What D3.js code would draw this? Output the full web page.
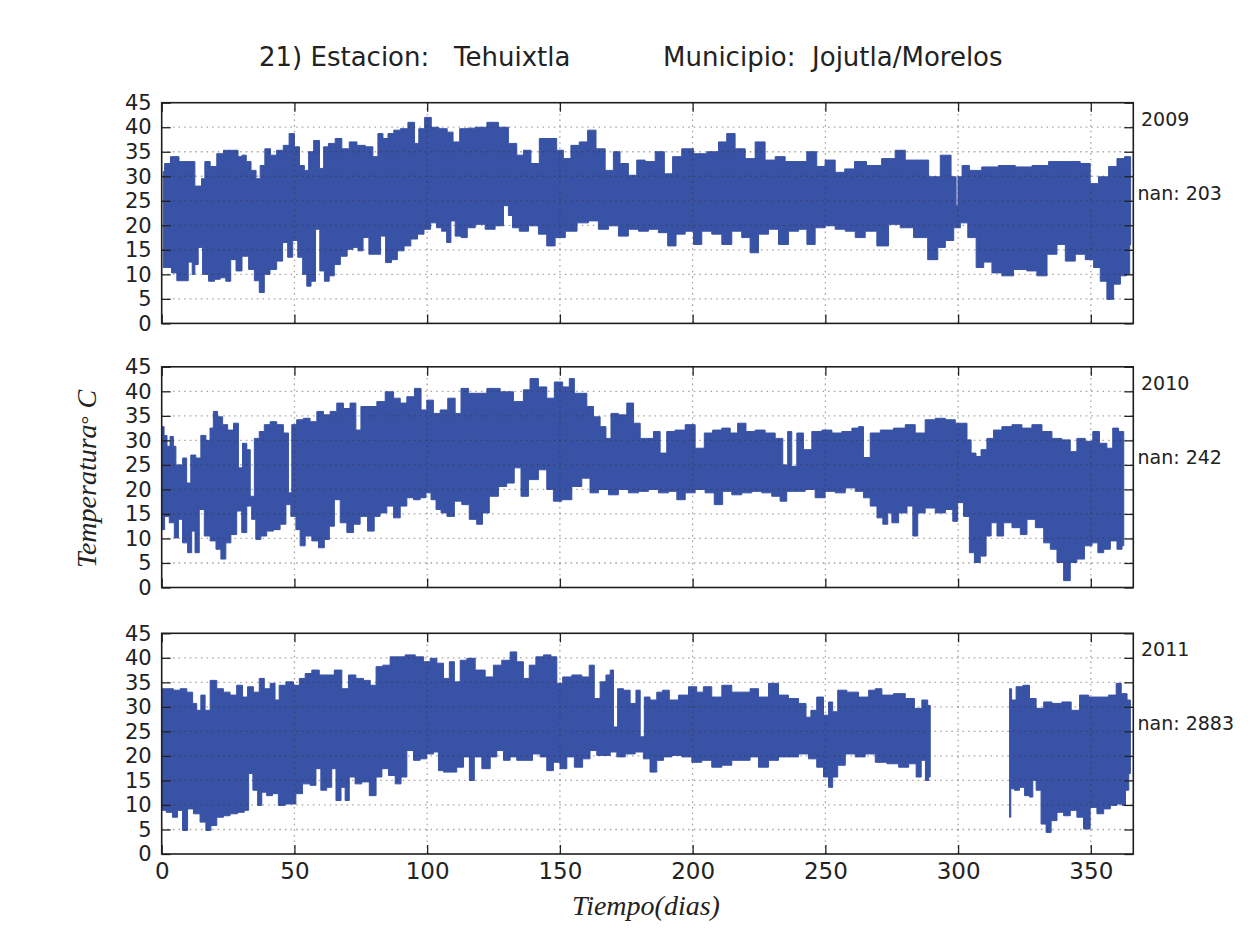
<!DOCTYPE html>
<html><head><meta charset="utf-8">
<script src="https://cdn.jsdelivr.net/npm/d3@7"></script>
<style>
body{margin:0;background:#fff;}
svg{display:block;}
text{white-space:pre;}
</style></head><body>
<svg id="chart" width="1259" height="943"></svg>
<script>
const years = ["2009", "2010", "2011"];
const nanLabels = ["nan: 203", "nan: 242", "nan: 2883"];
const xTicks = [0, 50, 100, 150, 200, 250, 300, 350];
const yTicks = [0, 5, 10, 15, 20, 25, 30, 35, 40, 45];
const titleLeft = "21) Estacion:   Tehuixtla";
const titleRight = "Municipio:  Jojutla/Morelos";

// [day, daily max °C] envelope readings
const hi2009 = [[0.6,31],[1.6,32.6],[5,34],[8,33],[12,33],[13,28],[14.5,28],[15.5,29.5],[17,33],[19.5,32],[22,34.6],[24.5,35.3],[28,35.3],[29.5,34],[31,34.3],[32.7,33],[34.6,31.2],[36.5,29.5],[37.7,32.2],[40,35.6],[42,34.3],[44.6,35.3],[47,36.3],[49,38.7],[51,36],[52.8,32.2],[54.7,31.2],[56,35],[58.5,37.3],[60.4,31.6],[61.6,36],[64,36.7],[66.7,37.7],[69,35.6],[72.3,37],[74.8,36.3],[78.6,36],[80.5,34],[82.4,38.7],[84.3,37.7],[86.2,38.7],[88.7,39.4],[91.2,39.7],[94.3,41],[96.2,36.7],[97.5,39.7],[100.6,42],[102.5,40],[106.3,39.7],[108.8,39],[110.7,37],[113.8,39.7],[116.2,39.8],[120,40],[125,41],[128.7,40],[132.5,36.7],[135,34.3],[137.5,35.3],[140.7,32.6],[143.8,37.7],[147.6,37.7],[150,35.3],[152.6,33.6],[155.7,36.3],[158.9,37],[162,39.4],[165.2,35.6],[168.9,31.2],[171.4,35],[173.9,32.6],[177.7,30.2],[180.2,33.3],[184,33],[187.8,35],[190.9,30.5],[194,34],[197.8,35.6],[202.8,34.6],[207.9,35],[211.6,37],[214.1,38.7],[217.9,35.6],[221.7,33.6],[225.4,37],[229.2,33.3],[233,34],[236.7,33],[240.5,33],[245.5,35],[248,32],[251.8,33.3],[255.6,30.8],[259,31.5],[263,33],[268,32.2],[274.4,33.6],[278.2,35.3],[282,33.3],[287,33.3],[290.8,29.9],[295.8,34.3],[298.9,29.9],[299.6,24],[300.3,29.9],[302.7,32.2],[305.8,31.2],[312,31.9],[318.4,32.2],[324.7,31.9],[331,32.2],[337.2,33],[343.5,33],[348.5,32.6],[351,28.5],[354.8,29.9],[358.6,32],[361.1,33.6],[364.3,34],[365,34]];
// [day, daily min °C]
const lo2009 = [[0.6,11.4],[3,11.4],[4.4,10.3],[7,8.7],[9,8.7],[11,12.5],[12,10],[13,12],[14.5,15.5],[16.3,10],[19,8.6],[20.8,9],[23.3,9.3],[25,8.6],[27,13],[29,10.7],[31.5,13.7],[34,11],[35.8,8.7],[37.7,6.3],[39.6,10],[42,11],[44.6,12.7],[46.5,16.5],[48.4,13.5],[50.3,16.9],[52.2,13.5],[54,10],[55.3,7.6],[57.2,8.6],[58.7,19.2],[60.4,10.7],[62.2,8.6],[64,9.7],[66,12],[68.6,13.7],[71.1,15.1],[73,15.5],[74.9,14.8],[76.8,17.5],[79.3,14.1],[81.8,14.1],[83.1,17.8],[85.6,12.4],[87.5,13],[90,14.8],[92.6,15.8],[95.1,17.2],[97.6,18.2],[100,19.2],[102.6,20.5],[104.5,19.5],[106.4,18.8],[108.3,16.5],[109.6,20.9],[111.5,17.8],[114,17.5],[116.2,19.5],[120,20.2],[123.7,19.2],[127.5,19.9],[130,24],[131.2,22],[133.1,19.5],[136.3,18.8],[140,19.9],[143.8,18.2],[146.3,15.8],[150.1,17.5],[154,18.8],[158.9,20.5],[162.6,20.9],[166.4,19.2],[170.2,19.9],[173.9,17.8],[177.7,19.2],[181.5,18.8],[185.2,19.2],[189,18.5],[192.2,15.8],[195.3,18.2],[199.1,18.8],[201.6,16.1],[205.3,18.8],[209.1,18.2],[212.9,16.1],[216.6,18.8],[220.4,17.5],[222.9,14.4],[226.7,18.2],[230.5,19.2],[234.2,16.1],[238,18.8],[241.8,19.2],[244.3,16.1],[248,19.5],[251.8,19.9],[255.6,19.2],[259.4,18.8],[263.1,17.5],[266.9,18.8],[271.9,15.8],[275.7,20.2],[280.7,19.5],[285.7,17.5],[291.4,13],[293.3,15.5],[297.1,16.9],[299.6,19.5],[302.1,20.5],[305.2,17.5],[308.4,11.4],[310.9,12.5],[314.6,10.3],[318.4,9.7],[323.4,11],[328.4,10.7],[331,9.7],[336,14.1],[338.5,16.1],[342.3,12.7],[346,14.1],[349.8,13],[352.3,11.4],[354.8,8.6],[357.3,4.9],[359.9,8],[362.4,9.7],[364.3,10],[365,16]];

const hi2010 = [[0.3,32.8],[1.5,31],[2.5,28.8],[3.8,30.8],[5,28.8],[5.7,25],[7,25],[8.8,26.4],[10,21.3],[11.9,27],[13.8,26.4],[15.7,31],[17.6,30],[18.8,32.5],[20.1,35.9],[22,34.8],[23.9,33.2],[25.8,32.1],[28.3,33.5],[29.5,24.4],[31.4,29.4],[32.7,28.1],[34,18.6],[35.8,30.4],[37.7,31.8],[39.6,33.2],[42.1,33.8],[44.6,33.2],[47.1,31.5],[48.4,19.3],[49.6,33.2],[52.1,34.2],[54.6,34.5],[57.2,33.8],[59.7,35.9],[62.2,35.2],[64.7,35.9],[67.2,37.6],[69.7,36.5],[72.2,37.6],[74.1,32.1],[76,36.9],[79.8,36.9],[82.3,37.9],[86.1,39.9],[88.6,38.6],[91.1,37.6],[93.6,38.9],[96.8,40.6],[98.6,36.2],[101.1,38.2],[103.6,35.5],[106.2,36.2],[109.3,38.6],[111.8,35.5],[113.7,40.6],[117.5,39.6],[120,39.6],[125,40.6],[130,39.9],[135,37.9],[137.5,40.3],[140,42.6],[143.8,40.9],[146.3,38.6],[149.5,41.9],[152.6,40.9],[154.5,42.6],[156.4,39.6],[158.9,39.6],[161.4,36.9],[163.9,34.8],[166.4,32.8],[168.3,30.4],[170.2,35.5],[173.9,35.2],[176.5,37.6],[179,33.5],[181.5,30.4],[184,30.4],[186.5,31.8],[189,27.4],[191.5,31.8],[195.3,32.1],[199.1,33.2],[202.8,28.4],[206,31.5],[209.1,32.1],[212.9,32.5],[215.4,31.5],[218.5,33.5],[221.7,31.8],[225.4,32.1],[229.2,31.5],[233,30.4],[234.9,25],[236.7,31.8],[238,24.7],[240.5,31.5],[243,28.1],[246.8,31.8],[250.6,32.1],[254.3,31.5],[258.1,31.8],[261.9,32.5],[263.1,32.8],[265.6,26.5],[268.2,31.5],[273.2,32.1],[278.2,32.5],[282,33.2],[285.7,31.5],[289.5,34.2],[293.3,34.5],[297.1,34.2],[300.8,33.5],[302.7,33.5],[304,30.1],[305.8,27.4],[307.7,26.7],[309.6,28.1],[312.1,30.4],[314.6,32.1],[318.4,32.8],[322.2,33.2],[325.9,32.5],[329.7,33.2],[333.5,31.8],[337.2,30.4],[341,30.1],[343.5,27.7],[346,30.4],[349.8,29.8],[351.7,31.8],[354.8,29.4],[357.3,28.4],[359.2,32.5],[361.7,31.8],[362.4,31.8]];
const lo2010 = [[0.3,11.8],[1.9,14.5],[3.8,13.2],[5.7,10.1],[6.9,13.9],[8.8,9.1],[10.7,7.1],[11.9,11.5],[13.2,7.1],[15.1,15.9],[17,10.5],[19.5,9.5],[21.4,7.8],[23.2,5.8],[25.1,9.1],[27,10.8],[29.5,15.6],[30.8,11.2],[33.3,16.6],[34.5,13.9],[36.4,9.8],[38.3,10.5],[40.8,11.5],[43.3,11.8],[45.9,12.9],[47.7,16.9],[49.6,14.5],[51.5,11.8],[52.8,8.5],[55.3,10.5],[57.8,9.5],[60.3,8.1],[62.2,9.8],[64.1,12.5],[66,17.9],[68.5,13.2],[71,11.2],[73.5,12.9],[76,14.5],[79.1,11.5],[81,14.5],[83.5,15.2],[86.1,16.6],[88.6,14.2],[91.1,16.6],[93.6,18.3],[96.1,17.9],[98.6,18.3],[100.5,19.3],[102.4,17.9],[104.3,15.9],[106.2,15.2],[108.7,14.5],[111.8,17.6],[114.3,16.9],[117.4,13.9],[119.9,12.9],[121.8,15.2],[125,18.6],[128.7,20.6],[131.2,21.3],[134.4,24.4],[136.3,18.6],[140,22],[143.8,24],[146.3,20],[148.8,17.6],[152.6,17.9],[156.4,20.6],[160.1,22.3],[162.6,19.3],[166.4,20],[170.2,18.9],[173.9,20],[177.7,19.3],[181.5,19.6],[185.2,20],[189,19.3],[192.8,19.6],[195.3,17.9],[199.1,19.3],[202.8,20],[206.6,19.3],[209.7,16.9],[212.9,19.6],[216.6,18.9],[220.4,19.3],[224.2,19.6],[227.9,19.3],[231.7,18.6],[234.2,17.6],[236.7,19.6],[240.5,19.6],[244.3,20],[248,18.3],[251.8,19.6],[255.6,19.3],[259.4,20.3],[263.1,19.6],[265.6,18.3],[268.2,16.6],[270.7,14.2],[272.6,12.9],[274.4,15.2],[275.7,13.2],[279.5,15.2],[282,16.6],[283.9,10.5],[285.7,15.2],[289.5,16.2],[293.3,15.2],[297.1,15.9],[298.9,13.5],[300.8,17.3],[303.3,14.5],[305.2,7.1],[307.1,5.1],[309.6,6.4],[311.5,10.5],[313.4,13.2],[315.9,10.5],[318.4,13.2],[322.2,12.2],[324.7,10.8],[327.2,13.9],[331,12.2],[333.5,9.1],[336,7.8],[338.5,5.1],[341,1.4],[343.5,5.1],[346,5.8],[349.2,8.5],[351.7,9.1],[353.6,7.1],[356.1,7.8],[358.6,9.5],[361.1,7.8],[362.4,8.5]];

const hi2011 = [[0.3,33.7],[3.1,33.7],[5.7,33.4],[8.2,33.7],[10.7,33],[12.6,30.7],[13.8,29.3],[15.7,32.4],[17,29.3],[19.5,35.4],[22,33.7],[24.5,33],[27,32.4],[29.5,34.4],[31.4,32],[33.3,34.1],[35.8,33],[37.7,35.8],[39.6,33.7],[42.1,34.8],[43.3,31.4],[45.2,34.4],[48.4,35.1],[50.9,34.4],[52.8,35.8],[55.3,36.8],[57.8,37.5],[60.9,36.5],[63.4,36.5],[66.6,37.5],[69.1,33.7],[71.6,36.5],[74.7,35.8],[77.3,35.4],[79.8,34.4],[81.7,38.2],[84.8,38.5],[87.3,40.2],[89.8,40.2],[93.6,40.6],[97.4,40.2],[99.9,39.2],[102.4,39.9],[104.9,38.9],[107.4,35.8],[109.3,39.2],[111.2,35.1],[113.7,39.5],[116.2,39.9],[120,37.5],[123.7,36.1],[126.2,38.5],[130,39.5],[132.5,41.2],[135,39.2],[137.5,35.8],[139.4,38.5],[142.5,40.2],[145.1,40.6],[148.2,40.2],[149.5,34.8],[152.6,36.1],[156.4,36.5],[160.1,36.1],[162,38.5],[163.9,31.7],[166.4,35.1],[168.3,36.5],[169.6,37.5],[170.8,25.9],[172.7,33.7],[175.2,33.4],[177.7,30.7],[179.6,33.4],[180.9,23.9],[182.7,32],[185.2,31.4],[187.8,33],[189.6,33.4],[192.8,31.4],[196.6,32.4],[200.3,34.1],[202.8,33],[205.3,34.1],[209.1,32],[212.9,34.4],[216.6,33],[220.4,33],[222.9,33.7],[226.7,32],[230.5,34.8],[234.2,32.4],[238,31.7],[241.8,30.7],[243.6,27.9],[245.5,29.3],[248,32],[250.6,28.3],[251.8,31],[253.7,29],[255.6,33.4],[260.6,33],[264.4,32],[268.2,33.4],[269.4,33.7],[273.2,32.4],[278.2,32.7],[282,31.7],[285.1,29.7],[287.6,31.4],[289.5,30.3],[319.4,33.7],[320.9,31.4],[322.8,34.1],[326,34.4],[327.8,31.7],[331,29.7],[333.5,31],[337.2,30.7],[341,31],[344.2,29.3],[347.3,32.4],[351.1,32],[354.8,32],[358.6,32.4],[360.5,34.8],[362.4,32.7],[364.9,31.4]];
const lo2011 = [[0.3,8.9],[3.1,8.5],[5,7.5],[6.9,8.9],[8.8,4.8],[10.7,9.2],[13.2,8.2],[15.7,6.5],[17.6,4.8],[19.5,5.8],[22,7.5],[24.5,7.8],[27,8.2],[30.2,8.5],[32,8.9],[33.5,16.4],[35.2,13],[37.1,9.9],[38.3,12.6],[40.8,11.9],[42.7,12.3],[45.2,9.9],[47.7,10.2],[49.6,10.2],[51.5,12.3],[54.6,14.3],[57.2,14],[59,17.4],[60.9,13],[63.4,13.6],[64.7,17.4],[66.6,10.9],[68.5,13.6],[69.7,10.9],[71.6,15.7],[74.1,14.3],[76.6,14.7],[79.8,11.9],[81.7,15.7],[84.2,17.4],[86.7,16],[89.2,14.3],[91.1,15.7],[93.6,21.1],[96.1,19.1],[98.6,19.4],[101.1,20.4],[103.6,20.8],[104.9,17],[107.4,16.7],[109.9,16.7],[112.4,17.7],[115,19.8],[116.8,15],[118.7,19.8],[122.5,17.4],[125,19.8],[127.5,21.1],[130,19.1],[132.5,19.8],[135,19.1],[138.1,19.1],[141.3,20.4],[143.8,19.8],[146.3,17],[148.8,18.7],[151.3,17.4],[153.9,19.8],[157,17.7],[160.1,19.4],[162.6,21.1],[165.2,20.1],[167.7,20.1],[170.2,20.8],[172.7,19.8],[176.5,20.4],[180.2,20.8],[182.7,19.4],[185.2,16.7],[187.8,19.1],[190.3,19.8],[194,20.1],[197.8,19.8],[201.6,18.7],[205.3,19.1],[209.1,17.7],[212.9,18.1],[216.6,19.1],[220.4,19.1],[222.9,19.8],[226.7,17.7],[230.5,19.1],[234.2,19.8],[238,19.8],[241.8,20.4],[245.5,19.4],[248,17.7],[250.6,15.7],[251.8,13.6],[253.7,15.7],[255.6,18.1],[259.4,20.4],[263.1,19.8],[266.9,20.4],[270.7,18.7],[275.7,18.4],[279.5,17.7],[283.3,18.4],[285.1,15.7],[287.1,19.1],[288.3,15],[289.5,15.7],[319.4,7.5],[320.3,13.3],[322.2,13],[324.1,13.6],[326,11.9],[327.8,11.6],[328.5,15],[330.3,13],[332.2,6.1],[334.1,4.4],[336,6.8],[338.5,8.5],[341,7.8],[343.5,8.9],[346,7.5],[348.5,5.1],[351,9.5],[353.6,8.2],[356.1,9.2],[358.6,9.9],[361.1,10.2],[362.4,9.9],[363.7,13],[364.9,16.4]];

// missing-data gaps (day ranges with no record)
const gaps2009 = [];
const gaps2010 = [];
const gaps2011 = [[290, 319]];

const series = [
  {year: years[0], nan: nanLabels[0], hi: hi2009, lo: lo2009, gaps: gaps2009},
  {year: years[1], nan: nanLabels[1], hi: hi2010, lo: lo2010, gaps: gaps2010},
  {year: years[2], nan: nanLabels[2], hi: hi2011, lo: lo2011, gaps: gaps2011}
];

const svg = d3.select("#chart");
const plotLeft = 161.7, plotRight = 1133.3;
const tops = [102.7, 366.8, 633.3];
const ph = 220.7;
const fillColor = "#3852a6";
const x = d3.scaleLinear().domain([0, 366]).range([plotLeft, plotRight]);

svg.append("rect").attr("width", 1259).attr("height", 943).attr("fill", "#fff");

series.forEach((s, i) => {
  const top = tops[i];
  const y = d3.scaleLinear().domain([0, 45]).range([top + ph, top]);
  const g = svg.append("g");

  const bounds = [-1];
  s.gaps.forEach(gp => { bounds.push(gp[0], gp[1]); });
  bounds.push(400);
  const line = d3.line().x(d => x(d[0])).y(d => y(d[1])).curve(d3.curveStep);
  for (let k = 0; k < bounds.length; k += 2) {
    const a = bounds[k], b = bounds[k + 1];
    const up = s.hi.filter(d => d[0] > a && d[0] < b);
    const dn = s.lo.filter(d => d[0] > a && d[0] < b).slice().reverse();
    if (!up.length) continue;
    g.append("path").attr("d", line(up.concat(dn)) + "Z")
      .attr("fill", fillColor).attr("stroke", fillColor).attr("stroke-width", 1);
  }

  const grid = g.append("g").attr("stroke", "#3a2a1a").attr("stroke-opacity", 0.42)
    .attr("stroke-width", 1.3).attr("stroke-dasharray", "1.6,4");
  grid.selectAll("line.gx").data(xTicks.filter(t => t > 0)).join("line").attr("class", "gx")
    .attr("x1", d => x(d)).attr("x2", d => x(d)).attr("y1", top).attr("y2", top + ph);
  grid.selectAll("line.gy").data(yTicks.filter(t => t > 0 && t < 45)).join("line").attr("class", "gy")
    .attr("x1", plotLeft).attr("x2", plotRight).attr("y1", d => y(d)).attr("y2", d => y(d));

  const tickLen = 9;
  const styleAxis = sel => {
    sel.select(".domain").remove();
    sel.selectAll(".tick line").attr("stroke", "#222").attr("stroke-width", 1.3);
    sel.selectAll(".tick text").attr("fill", "#222").attr("font-family", "DejaVu Sans")
      .attr("font-size", 21);
  };
  g.append("g").attr("transform", `translate(${plotLeft},0)`)
    .call(d3.axisLeft(y).tickValues(yTicks).tickSize(-tickLen).tickPadding(10).tickFormat(d3.format("d")))
    .call(styleAxis);
  g.append("g").attr("transform", `translate(${plotRight},0)`)
    .call(d3.axisRight(y).tickValues(yTicks).tickSize(-tickLen).tickFormat(""))
    .call(styleAxis);
  g.append("g").attr("transform", `translate(0,${top})`)
    .call(d3.axisTop(x).tickValues(xTicks).tickSize(-tickLen).tickFormat(""))
    .call(styleAxis);
  const bx = g.append("g").attr("transform", `translate(0,${top + ph})`)
    .call(d3.axisBottom(x).tickValues(xTicks).tickSize(-tickLen).tickPadding(9)
      .tickFormat(i === 2 ? d3.format("d") : ""))
    .call(styleAxis);
  bx.selectAll(".tick text").attr("font-size", 23);

  g.append("rect").attr("x", plotLeft).attr("y", top).attr("width", plotRight - plotLeft).attr("height", ph)
    .attr("fill", "none").attr("stroke", "#1e1e1e").attr("stroke-width", 1.6);

  g.append("text").attr("x", 1141).attr("y", top + 23).text(s.year)
    .attr("font-family", "DejaVu Sans").attr("font-size", 19).attr("fill", "#222");
  g.append("text").attr("x", 1137.5).attr("y", top + 97).text(s.nan)
    .attr("font-family", "DejaVu Sans").attr("font-size", 19).attr("fill", "#222");
});

svg.append("text").attr("x", 259).attr("y", 66).text(titleLeft)
  .attr("font-family", "DejaVu Sans").attr("font-size", 26).attr("fill", "#222");
svg.append("text").attr("x", 663).attr("y", 66).text(titleRight)
  .attr("font-family", "DejaVu Sans").attr("font-size", 26).attr("fill", "#222");

const yl = svg.append("text").attr("transform", "translate(96,479) rotate(-90)")
  .attr("text-anchor", "middle").attr("font-family", "Liberation Serif").attr("font-style", "italic")
  .attr("font-size", 28).attr("fill", "#222");
yl.append("tspan").text("Temperatura");
yl.append("tspan").text("°").attr("font-size", 22).attr("font-style", "normal");
yl.append("tspan").text(" C");

svg.append("text").attr("x", 646).attr("y", 915).attr("text-anchor", "middle")
  .attr("font-family", "Liberation Serif").attr("font-style", "italic")
  .attr("font-size", 28).attr("fill", "#222").text("Tiempo(dias)");
</script>
</body></html>
